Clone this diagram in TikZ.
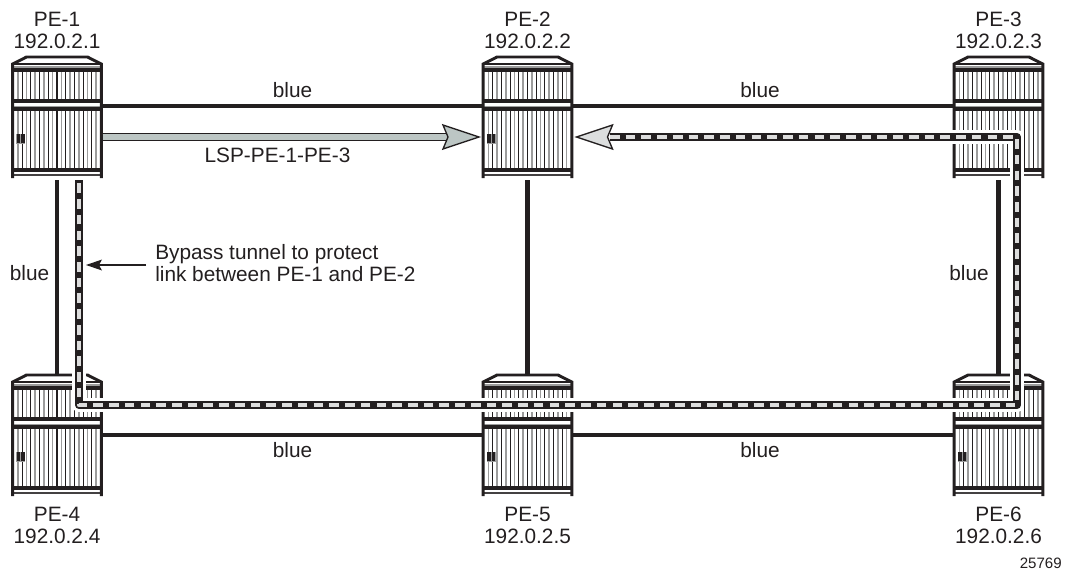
\documentclass[tikz,border=0pt]{standalone}
\usepackage{fontspec}
\setmainfont{Liberation Sans}
\usetikzlibrary{calc}
\definecolor{rdark}{HTML}{231F20}
\definecolor{rgray}{HTML}{9C9C9C}
\definecolor{arrfill}{HTML}{DCDEDE}
\definecolor{shaftfill}{HTML}{BCC6C4}
\definecolor{dashfill}{HTML}{DDDDDD}
\tikzset{
  routerbox/.style={minimum width=91*0.75pt,minimum height=122*0.75pt,inner sep=0pt,outer sep=0pt},
  rline/.style={draw=rdark,line width=2.2pt},
  linkline/.style={draw=rdark,line width=3.1pt},
  lab/.style={font=\fontsize{15.6pt}{16.5pt}\selectfont,align=center,inner sep=0pt,text=rdark},
  lableft/.style={lab,align=left,anchor=west},
  tagtext/.style={font=\fontsize{11.3pt}{12pt}\selectfont,inner sep=0pt,anchor=east,text=rdark},
  headshape/.style={draw=rdark,line width=1pt,line join=miter},
}
% name, centre x, centre y (pixels)
\newcommand{\routerat}[3]{%
  \node[routerbox] (#1) at (#2,#3) {};
  \begin{scope}[shift={(#2-45.5,#3-61)}]
    \fill[white] (0,8) -- (15,0) -- (76,0) -- (91,8) -- (91,122) -- (0,122) -- cycle;
    \foreach \sx in {10.7,19.4,...,88}{
      \draw[rdark,line width=0.8pt] (\sx,15) -- (\sx,43);
      \draw[rdark,line width=0.8pt] (\sx,55) -- (\sx,112);
    }
    \foreach \sx in {6.35,15.05,...,88}{
      \draw[rgray,line width=1.25pt] (\sx,15) -- (\sx,43);
      \draw[rgray,line width=1.25pt] (\sx,55) -- (\sx,112);
    }
    \fill[rgray] (2,9.5) rectangle (89,12);
    \fill[rdark] (2,12) rectangle (89,15.5);
    \fill[rdark] (2,42.5) rectangle (89,46.5);
    \fill[rgray] (2,49.5) rectangle (89,51);
    \fill[rdark] (2,51) rectangle (89,55);
    \fill[rdark] (2,111.5) rectangle (89,116);
    \fill[rdark!85] (2,118) rectangle (89,119.8);
    \fill[rgray] (4.5,77.5) rectangle (13.5,87.5);
    \fill[rdark] (5,78) rectangle (8.6,87);
    \fill[rdark] (9.6,78) rectangle (13,87);
    \draw[rline,line join=miter] (1.2,122) -- (1.2,8) -- (15,1) -- (76,1) -- (89.8,8) -- (89.8,122);
    \draw[rdark,line width=0.8pt] (1,8) -- (90,8);
  \end{scope}
}
\begin{document}
\begin{tikzpicture}[x=0.75pt,y=-0.75pt]
\useasboundingbox (0,0) rectangle (1066,571);
\fill[white] (0,0) rectangle (1066,571);

\routerat{pe1}{57}{117}
\routerat{pe2}{527.5}{117}
\routerat{pe3}{998.5}{117}
\routerat{pe4}{57}{435}
\routerat{pe5}{527.5}{435}
\routerat{pe6}{998.5}{435}

% links
\draw[linkline] ($(pe1.east)+(0,-11)$) -- ($(pe2.west)+(0,-11)$);
\draw[linkline] ($(pe2.east)+(0,-11)$) -- ($(pe3.west)+(0,-11)$);
\draw[linkline] (pe4.east) -- (pe5.west);
\draw[linkline] (pe5.east) -- (pe6.west);
\draw[linkline] ($(pe1.south)+(0,2)$) -- (pe4.north);
\draw[linkline] ($(pe2.south)+(0,2)$) -- (pe5.north);
\draw[linkline] ($(pe3.south)+(0,2)$) -- (pe6.north);

% LSP arrow PE-1 to PE-2
\coordinate (lsptip) at ($(pe2.west)+(-3,20)$);
\draw[draw=rdark,line width=6pt] ($(pe1.east)+(0,20)$) -- ($(lsptip)+(-30,0)$);
\draw[draw=shaftfill,line width=3.9pt] ($(pe1.east)+(0,20)$) -- ($(lsptip)+(-30,0)$);
\draw[headshape,fill=shaftfill] (lsptip) -- ++(-36,-12) -- ++(5,12) -- ++(-5,12) -- cycle;

% protected tunnel PE-3 back to PE-2, with bypass
\coordinate (tunA) at ($(pe2.east)+(37,20)$);
\coordinate (tunB) at (1017,137);
\coordinate (tunC) at (1017,405);
\coordinate (tunD) at (79,405);
\coordinate (tunE) at ($(pe1.south)+(22,2)$);
\draw[white,line width=10.5pt,line join=round] (tunA) -- (tunB) -- (tunC) -- (tunD) -- (tunE);
\draw[rdark,line width=6.2pt,line join=round] (tunA) -- (tunB) -- (tunC) -- (tunD) -- (tunE);
\draw[dashfill,line width=3.2pt,line join=round,dash pattern=on 7.2pt off 4.6pt] (tunA) -- (tunB) -- (tunC) -- (tunD) -- (tunE);
\coordinate (rtip) at ($(pe2.east)+(3.5,20)$);
\draw[headshape,fill=arrfill] (rtip) -- ++(36,-12) -- ++(-5,12) -- ++(5,12) -- cycle;

% labels
\node[lab] (lab1) at (57,30.5) {PE-1\\192.0.2.1};
\node[lab] (lab2) at (527.5,30.5) {PE-2\\192.0.2.2};
\node[lab] (lab3) at (998.5,30.5) {PE-3\\192.0.2.3};
\node[lab] (lab4) at (57,525.5) {PE-4\\192.0.2.4};
\node[lab] (lab5) at (527.5,525.5) {PE-5\\192.0.2.5};
\node[lab] (lab6) at (998.5,525.5) {PE-6\\192.0.2.6};
\node[lab] (b1) at (292.5,90) {blue};
\node[lab] (b2) at (760,90) {blue};
\node[lab] (b3) at (29.5,273) {blue};
\node[lab] (b4) at (969,273) {blue};
\node[lab] (b5) at (292.5,450) {blue};
\node[lab] (b6) at (760,450) {blue};
\node[lab] (lsp) at (277.5,155.5) {LSP-PE-1-PE-3};
\node[lableft] (bypass) at (155,263.5) {Bypass tunnel to protect\\link between PE-1 and PE-2};
\coordinate (bypasstip) at (86,265);
\draw[rdark,line width=0.9pt] ($(bypass.west)+(-9,1.5)$) -- ($(bypasstip)+(12,0)$);
\fill[rdark] (bypasstip) -- ++(16,-5.5) -- ++(-3,5.5) -- ++(3,5.5) -- cycle;
\node[tagtext] (tag) at (1062,563) {25769};
\end{tikzpicture}
\end{document}
